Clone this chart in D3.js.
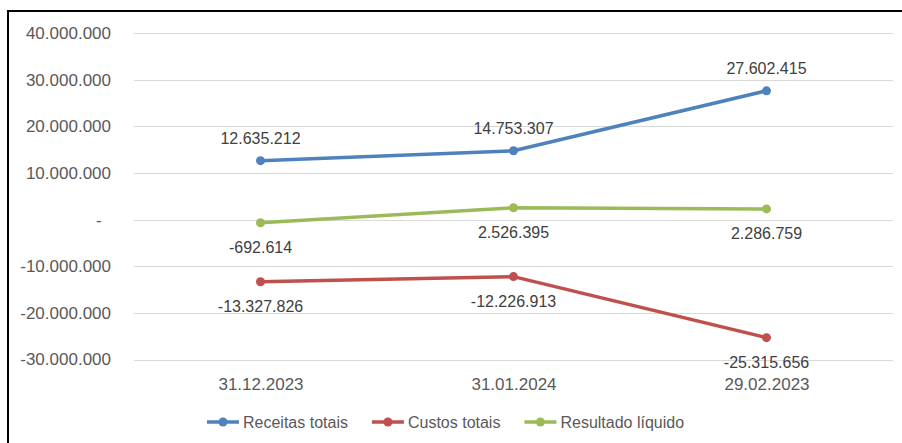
<!DOCTYPE html>
<html>
<head>
<meta charset="utf-8">
<script src="https://cdn.jsdelivr.net/npm/d3@7"></script>
<style>
  body { margin: 0; background: #fff; }
  svg text { font-family: "Liberation Sans", Arial, sans-serif; }
</style>
</head>
<body>
<svg id="chart" width="902" height="443"></svg>
<script>
"use strict";

var categories = ['31.12.2023', '31.01.2024', '29.02.2023'];
var receitas = [12635212, 14753307, 27602415];
var custos = [-13327826, -12226913, -25315656];
var resultado = [-692614, 2526395, 2286759];
var yTicks = [-30000000, -20000000, -10000000, 0, 10000000, 20000000, 30000000, 40000000];

var series = [
  { name: 'Receitas totais', values: receitas, color: '#4F81BD', label: 'above' },
  { name: 'Custos totais', values: custos, color: '#C0504D', label: 'below' },
  { name: 'Resultado líquido', values: resultado, color: '#9BBB59', label: 'below' }
];

var ptBR = d3.formatLocale({ decimal: ',', thousands: '.', grouping: [3], currency: ['R$', ''], minus: '-' });
var fmt = ptBR.format(',d');

var svg = d3.select('#chart');

// chart frame (cut off on right / bottom like the screenshot)
svg.append('rect')
  .attr('x', 8).attr('y', 11)
  .attr('width', 1000).attr('height', 600)
  .attr('fill', 'none')
  .attr('stroke', '#000')
  .attr('stroke-width', 2);

var x = d3.scalePoint()
  .domain(categories)
  .range([134, 893])
  .padding(0.5);

var y = d3.scaleLinear()
  .domain([-30000000, 40000000])
  .range([359.5, 33]);

// gridlines
svg.append('g')
  .selectAll('line')
  .data(yTicks)
  .enter().append('line')
  .attr('x1', 134)
  .attr('x2', 893)
  .attr('y1', function(d) { return Math.round(y(d)) + 0.5; })
  .attr('y2', function(d) { return Math.round(y(d)) + 0.5; })
  .attr('stroke', '#d9d9d9')
  .attr('stroke-width', 1);

// y axis labels
var yAxis = d3.axisLeft(y)
  .tickValues(yTicks)
  .tickSize(0)
  .tickPadding(0)
  .tickFormat(function(d) { return d === 0 ? '-\u00a0\u00a0' : fmt(d); });

var gy = svg.append('g')
  .attr('transform', 'translate(111,0)')
  .call(yAxis);
gy.select('.domain').remove();
gy.selectAll('text')
  .attr('fill', '#595959')
  .attr('font-size', 17)
  .style('font-family', '"Liberation Sans", Arial, sans-serif');

// x axis labels
var xAxis = d3.axisBottom(x).tickSize(0).tickPadding(0);
var gx = svg.append('g')
  .attr('transform', 'translate(0,376)')
  .call(xAxis);
gx.select('.domain').remove();
gx.selectAll('text')
  .attr('fill', '#595959')
  .attr('font-size', 17)
  .attr('dy', '0.8em')
  .style('font-family', '"Liberation Sans", Arial, sans-serif');

var line = d3.line()
  .x(function(d, i) { return x(categories[i]); })
  .y(function(d) { return y(d); });

series.forEach(function(s) {
  var g = svg.append('g');

  g.append('path')
    .datum(s.values)
    .attr('d', line)
    .attr('fill', 'none')
    .attr('stroke', s.color)
    .attr('stroke-width', 3.5)
    .attr('stroke-linejoin', 'round');

  g.selectAll('circle')
    .data(s.values)
    .enter().append('circle')
    .attr('cx', function(d, i) { return x(categories[i]); })
    .attr('cy', function(d) { return y(d); })
    .attr('r', 4.5)
    .attr('fill', s.color);

  g.selectAll('text')
    .data(s.values)
    .enter().append('text')
    .attr('x', function(d, i) { return x(categories[i]); })
    .attr('y', function(d) { return y(d) + (s.label === 'above' ? -17 : 30); })
    .attr('text-anchor', 'middle')
    .attr('font-size', 16)
    .attr('fill', '#404040')
    .text(function(d) { return fmt(d); });
});

// legend
var legend = svg.append('g').attr('transform', 'translate(207,422)');
var lx = 0;
series.forEach(function(s) {
  var item = legend.append('g').attr('transform', 'translate(' + lx + ',0)');
  item.append('line')
    .attr('x1', 0).attr('x2', 32)
    .attr('y1', 0).attr('y2', 0)
    .attr('stroke', s.color)
    .attr('stroke-width', 3.5);
  item.append('circle')
    .attr('cx', 16).attr('cy', 0)
    .attr('r', 4.5)
    .attr('fill', s.color);
  var t = item.append('text')
    .attr('x', 36)
    .attr('y', 0)
    .attr('dy', '0.35em')
    .attr('font-size', 16)
    .attr('fill', '#595959')
    .text(s.name);
  lx += 36 + t.node().getComputedTextLength() + 24;
});
</script>
</body>
</html>
